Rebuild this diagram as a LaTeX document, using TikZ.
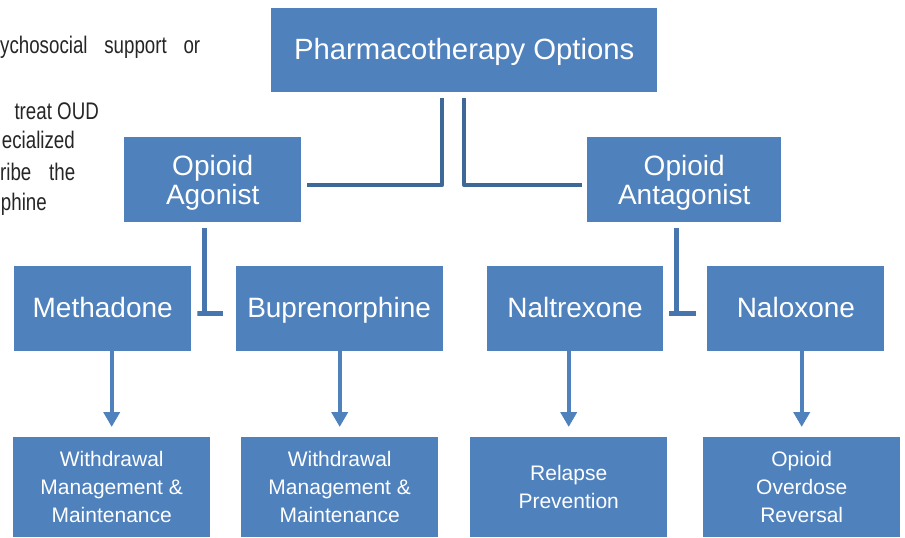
\documentclass[tikz,border=0pt]{standalone}
\usepackage{fontspec}
\setmainfont{Liberation Sans}
\newfontfamily\notefont[FakeStretch=0.78]{Liberation Sans}
\usetikzlibrary{arrows.meta,positioning}

\definecolor{boxblue}{HTML}{4F81BD}
\definecolor{linkblue}{HTML}{3E6898}
\definecolor{teeblue}{HTML}{4775AE}
\definecolor{notegray}{HTML}{262626}

\begin{document}
\begin{tikzpicture}[x=1pt, y=-1pt,
    optbox/.style={rectangle, fill=boxblue, text=white, inner sep=0pt, align=center, below right},
    topbox/.style={optbox, minimum height=84pt, font=\fontsize{29.3}{32}\selectfont, text height=18pt, text depth=0pt},
    drugbox/.style={optbox, minimum height=85pt, font=\fontsize{28}{29}\selectfont, text height=20pt, text depth=0pt},
    usebox/.style={optbox, minimum width=197pt, minimum height=100pt, font=\fontsize{21}{28}\selectfont, text depth=0pt},
    note/.style={text=notegray, inner sep=0pt, font=\notefont\fontsize{24}{30}\selectfont},
    link/.style={draw=linkblue, line width=4pt, line join=round},
    tee/.style={draw=teeblue, line width=5pt, line join=miter},
    flow/.style={draw=boxblue, line width=4pt, -{Triangle[width=16pt,length=15pt]}}]
    \useasboundingbox (0,0) rectangle (905,538);
  %  \draw[help lines] (0,0) grid[step=50] (905,538);

    % text of the page beside the chart
    \node (noteA) [note, anchor=base west] at (0,53) {\makebox[200pt][s]{ychosocial support or}};
    \node (noteB) [note, anchor=base east] at (99,119) {treat OUD};
    \node (noteC) [note, anchor=base east] at (75,148) {ecialized};
    \node (noteD) [note, anchor=base west] at (0,180) {\makebox[75pt][s]{ribe the}};
    \node (noteE) [note, anchor=base east] at (47,210) {phine};

    \node (pharma) [topbox, minimum width=386pt] at (271, 8) {Pharmacotherapy Options};

    \node (agonist) [drugbox, minimum width=177pt, text height=49pt] at (124, 137) {Opioid\\Agonist};
    \node (antagonist) [drugbox, minimum width=194pt, text height=49pt] at (587, 137) {Opioid\\Antagonist};

    \node (methadone) [drugbox, minimum width=177pt, text height=17pt] at (14, 266) {Methadone};
    \node (buprenorphine) [drugbox, minimum width=207pt, text height=17pt, right=44pt of methadone.east, anchor=west] {Buprenorphine};
    \node (naltrexone) [drugbox, minimum width=176pt, text height=17pt, right=44pt of buprenorphine.east, anchor=west] {Naltrexone};
    \node (naloxone) [drugbox, minimum width=177pt, text height=17pt, right=44pt of naltrexone.east, anchor=west] {Naloxone};

    \node (withdrawA) [usebox, text height=71pt] at (13, 437) {Withdrawal\\Management \&\\Maintenance};
    \node (withdrawB) [usebox, text height=71pt] at (241, 437) {Withdrawal\\Management \&\\Maintenance};
    \node (relapse) [usebox, text height=43pt] at (470, 437) {Relapse\\Prevention};
    \node (reversal) [usebox, text height=71pt] at (703, 437) {Opioid\\Overdose\\Reversal};

    \draw[link] ([xshift=-22pt,yshift=-6pt]pharma.south) |- ([xshift=6pt,yshift=-5.5pt]agonist.east);
    \draw[link] ([yshift=-6pt]pharma.south) |- ([xshift=-5pt,yshift=-5.5pt]antagonist.west);

    \draw[tee] ([xshift=-8.5pt,yshift=-6pt]agonist.south) |- ([xshift=6pt,yshift=-4.5pt]methadone.east) -- ([xshift=-12pt,yshift=-4.5pt]buprenorphine.west);
    \draw[tee] ([xshift=-8pt,yshift=-6pt]antagonist.south) |- ([xshift=6pt,yshift=-4.5pt]naltrexone.east) -- ([xshift=-11pt,yshift=-4.5pt]naloxone.west);

    \draw[flow] (methadone.south -| withdrawA.north) -- ([yshift=10pt]withdrawA.north);
    \draw[flow] (buprenorphine.south -| withdrawB.north) -- ([yshift=10pt]withdrawB.north);
    \draw[flow] (naltrexone.south -| relapse.north) -- ([yshift=10pt]relapse.north);
    \draw[flow] (naloxone.south -| reversal.north) -- ([yshift=10pt]reversal.north);

\end{tikzpicture}
\end{document}
